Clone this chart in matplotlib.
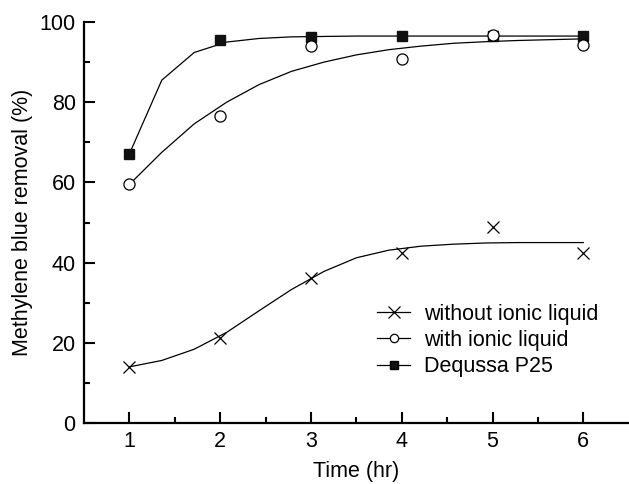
import matplotlib
matplotlib.use('Agg')
import matplotlib.pyplot as plt
from matplotlib.lines import Line2D

plt.rcParams['font.family'] = ['Liberation Sans', 'DejaVu Sans']

# measured points
time = [1, 2, 3, 4, 5, 6]
without_il = [14.0, 21.3, 36.2, 42.3, 49.0, 42.3]
with_il = [59.5, 76.5, 93.9, 90.7, 96.8, 94.2]
p25 = [67.1, 95.5, 96.3, 96.4, 96.4, 96.4]

# fitted curves
fit_x = [1, 1.357, 1.714, 2.071, 2.429, 2.786, 3.143, 3.5, 3.857, 4.214, 4.571, 4.929, 5.286, 5.643, 6]
fit_without = [14.0, 15.6, 18.4, 22.6, 28.0, 33.3, 37.8, 41.2, 43.1, 44.1, 44.6, 44.9, 45.0, 45.0, 45.0]
fit_with = [59.5, 67.5, 74.6, 80.0, 84.4, 87.7, 90.0, 91.8, 93.1, 94.0, 94.7, 95.1, 95.4, 95.6, 95.8]
fit_p25 = [67.1, 85.5, 92.4, 95.0, 95.9, 96.3, 96.4, 96.5, 96.5, 96.5, 96.5, 96.5, 96.5, 96.5, 96.5]

fs = 15.5

fig = plt.figure(figsize=(6.29, 4.84), dpi=100)
ax = fig.add_axes([0.1335, 0.126, 0.866, 0.8285])

lw = 0.9
ax.plot(fit_x, fit_without, color='black', lw=lw)
ax.plot(fit_x, fit_with, color='black', lw=lw)
ax.plot(fit_x, fit_p25, color='black', lw=lw)

ax.plot(time, without_il, ls='none', marker='x', ms=9, mew=0.9, color='black')
ax.plot(time, p25, ls='none', marker='s', ms=7, color='#111111')
ax.plot(time, with_il, ls='none', marker='o', ms=8, mfc='white', mec='black', mew=0.9)

ax.set_xlim(0.5, 6.5)
ax.set_ylim(0, 100)
ax.set_xticks(time)
ax.set_xticks([1.5, 2.5, 3.5, 4.5, 5.5], minor=True)
ax.set_yticks([0, 20, 40, 60, 80, 100])
ax.set_yticks([10, 30, 50, 70, 90], minor=True)

for s in ['top', 'right']:
    ax.spines[s].set_visible(False)
for s in ['left', 'bottom']:
    ax.spines[s].set_linewidth(1.6)

ax.tick_params(which='major', direction='in', length=8, width=1.5, labelsize=fs, pad=6)
ax.tick_params(which='minor', direction='in', length=4, width=1.5)

ax.set_xlabel('Time (hr)', fontsize=fs, labelpad=6)
ax.set_ylabel('Methylene blue removal (%)', fontsize=fs, labelpad=5)

handles = [
    Line2D([], [], color='black', lw=lw, marker='x', ms=8, mew=0.9),
    Line2D([], [], color='black', lw=lw, marker='o', ms=6, mfc='white', mew=0.9),
    Line2D([], [], color='black', lw=lw, marker='s', ms=6, mfc='#111111'),
]
labels = ['without ionic liquid', 'with ionic liquid', 'Dequssa P25']
ax.legend(handles, labels, loc='upper left', bbox_to_anchor=(0.538, 0.298), frameon=False,
          fontsize=fs, handlelength=1.55, handletextpad=0.65, labelspacing=0.25, borderaxespad=0,
          borderpad=0)

fig.savefig('out.png', dpi=100)
